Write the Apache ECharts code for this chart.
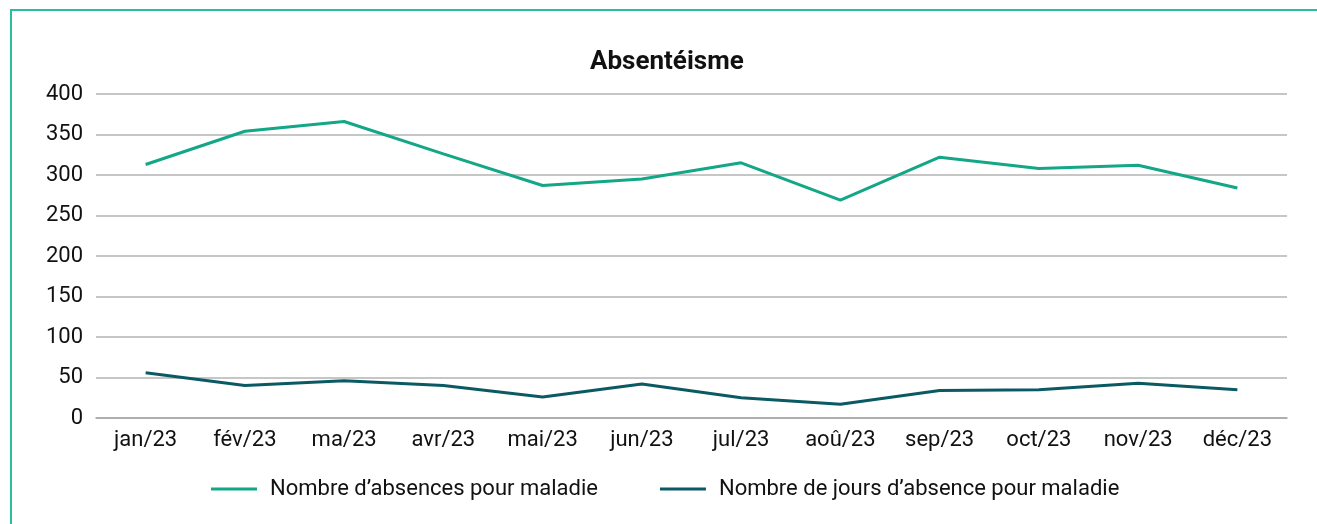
<!DOCTYPE html>
<html>
<head>
<meta charset="utf-8">
<script src="https://cdn.jsdelivr.net/npm/echarts@6/dist/echarts.min.js"></script>
<style>
  html, body { margin: 0; padding: 0; background: #fff; }
  #frame {
    position: absolute; left: 10px; top: 9px; width: 1400px; height: 600px;
    border-top: 2px solid #2dbd9e; border-left: 2px solid #2dbd9e;
  }
  #chart { position: absolute; left: 0; top: 0; width: 1317px; height: 524px; }
</style>
</head>
<body>
<div id="frame"></div>
<div id="chart"></div>
<script>
// mois (axe des x)
const months = ['jan/23', 'fév/23', 'ma/23', 'avr/23', 'mai/23', 'jun/23', 'jul/23', 'aoû/23', 'sep/23', 'oct/23', 'nov/23', 'déc/23']
// valeurs
const absences = [313, 354, 366, 326, 287, 295, 315, 269, 322, 308, 312, 284]
const joursAbsence = [56, 40, 46, 40, 26, 42, 25, 17, 34, 35, 43, 35]
const yTicks = { min: 0, max: 400, interval: 50 }

const fontFamily = 'Roboto, "Noto Sans", sans-serif'

const chartDom = document.getElementById('chart')
const chartInst = echarts.init(chartDom, null, { renderer: 'canvas' })

const options = {
  animation: false,
  textStyle: { fontFamily: fontFamily },
  title: {
    text: 'Absentéisme',
    left: 585,
    top: 44,
    textStyle: { fontSize: 26, fontWeight: 'bold', color: '#111', fontFamily: fontFamily }
  },
  legend: {
    left: 206,
    top: 473,
    icon: 'rect',
    itemWidth: 46,
    itemHeight: 3,
    itemGap: 62,
    textStyle: { fontSize: 22, color: '#111', padding: [0, 0, 0, 8] },
    data: ['Nombre d’absences pour maladie', 'Nombre de jours d’absence pour maladie']
  },
  grid: { left: 96, right: 30, top: 94, bottom: 106 },
  xAxis: {
    type: 'category',
    data: months,
    boundaryGap: true,
    axisLine: { show: true, lineStyle: { color: '#a6a6a6', width: 1.5 } },
    axisTick: { show: false },
    axisLabel: { fontSize: 22, color: '#111', margin: 11 }
  },
  yAxis: {
    type: 'value',
    min: yTicks.min,
    max: yTicks.max,
    interval: yTicks.interval,
    axisLine: { show: false },
    axisTick: { show: false },
    axisLabel: { fontSize: 22, color: '#111', margin: 13 },
    splitLine: { lineStyle: { color: '#b3b3b3', width: 1.5 } }
  },
  series: [
    {
      name: 'Nombre d’absences pour maladie',
      type: 'line',
      data: absences,
      symbol: 'none',
      lineStyle: { color: '#13a687', width: 3 },
      itemStyle: { color: '#13a687' }
    },
    {
      name: 'Nombre de jours d’absence pour maladie',
      type: 'line',
      data: joursAbsence,
      symbol: 'none',
      lineStyle: { color: '#0b5a63', width: 3 },
      itemStyle: { color: '#0b5a63' }
    }
  ]
}

chartInst.setOption(options)
</script>
</body>
</html>
